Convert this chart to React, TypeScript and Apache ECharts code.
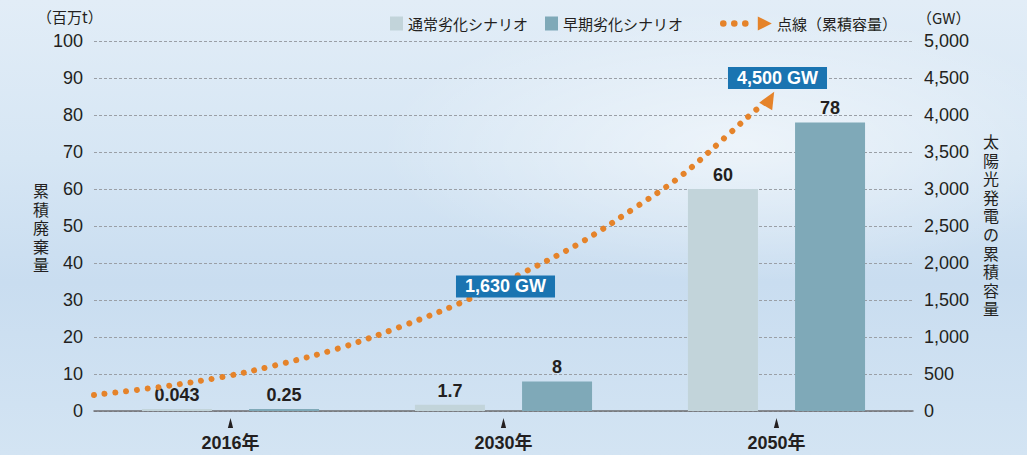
import React, { useEffect, useRef } from 'react';
import * as echarts from 'echarts';

// ---- data ----
const categories = ['2016年', '2030年', '2050年'];
const normalScenario = [0.043, 1.7, 60]; // 通常劣化シナリオ (百万t)
const earlyScenario = [0.25, 8, 78]; // 早期劣化シナリオ (百万t)
// cumulative PV capacity curve (GW), position measured in category units (0 = left edge, 3 = right edge)
const curvePos = [0, 0.24, 0.47, 0.67, 0.9, 1.13, 1.35, 1.57, 1.78, 1.98, 2.15, 2.33, 2.42, 2.476];
const curveGW = [216, 324, 459, 622, 851, 1149, 1473, 1865, 2270, 2743, 3176, 3757, 4054, 4216];
const capacityLabelPos = [1.5, 2.5];
const capacityLabelGW = [1630, 4500];
const leftMax = 100;
const leftInterval = 10;
const rightMax = 5000;
const rightInterval = 500;
const leftName = '累積廃棄量';
const rightName = '太陽光発電の累積容量';

const TEXT = '#231f20';
const ORANGE = '#e5832a';
const LIGHT = '#c2d4da';
const DARK = '#7fa9b8';
const BLUE = '#1a74b1';
const NUM = "'Liberation Sans', 'Noto Sans CJK JP', sans-serif";
const JP = "'Noto Sans CJK JP', sans-serif";

const lineIcon =
  'path://M0.2,7 A3.3,3.3 0 1 0 6.8,7 A3.3,3.3 0 1 0 0.2,7 Z ' +
  'M11.2,7 A3.3,3.3 0 1 0 17.8,7 A3.3,3.3 0 1 0 11.2,7 Z ' +
  'M22.2,7 A3.3,3.3 0 1 0 28.8,7 A3.3,3.3 0 1 0 22.2,7 Z ' +
  'M38,0 L52,7 L38,14 Z';

function verticalText(text: string, left: number, top: number, pitch: number) {
  return Array.from(text).map((ch, i) => ({
    type: 'text',
    left,
    top: top + i * pitch,
    style: { text: ch, fontSize: 16, lineHeight: 16, fontFamily: JP, fill: TEXT },
  }));
}

export default function App() {
  const ref = useRef<HTMLDivElement>(null);

  useEffect(() => {
    document.body.style.margin = '0';
    const chart = echarts.init(ref.current!, undefined, { renderer: 'svg' });
    const fmt = (v: number) => Number(v).toLocaleString('en-US');

    const barLabel = {
      show: true,
      position: 'top',
      distance: 5,
      color: TEXT,
      fontSize: 18,
      fontWeight: 'bold',
      fontFamily: NUM,
    };

    const option: any = {
      animation: false,
      grid: { left: 94, right: 114, top: 41, bottom: 44 },
      legend: [
        {
          data: ['通常劣化シナリオ', '早期劣化シナリオ'],
          left: 390,
          top: 16,
          padding: 0,
          icon: 'rect',
          itemWidth: 13,
          itemHeight: 14,
          itemGap: 17,
          selectedMode: false,
          textStyle: { color: TEXT, fontSize: 15, fontFamily: JP },
        },
        {
          data: [{ name: '点線（累積容量）', icon: lineIcon }],
          left: 720,
          top: 16,
          padding: 0,
          itemWidth: 52,
          itemHeight: 14,
          selectedMode: false,
          textStyle: { color: TEXT, fontSize: 15, fontFamily: JP },
        },
      ],
      xAxis: [
        {
          type: 'category',
          data: categories,
          axisLine: { lineStyle: { color: '#6d6e71', width: 1.5 } },
          axisTick: { inside: true, length: 7, lineStyle: { color: '#6d6e71', width: 1.2 } },
          axisLabel: {
            margin: 23,
            color: TEXT,
            fontSize: 18,
            fontWeight: 'bold',
            fontFamily: NUM,
          },
        },
        { type: 'value', min: 0, max: 3, show: false },
      ],
      yAxis: [
        {
          type: 'value',
          min: 0,
          max: leftMax,
          interval: leftInterval,
          axisLine: { show: false },
          axisTick: { show: false },
          axisLabel: { color: TEXT, fontSize: 18, fontFamily: NUM, margin: 11 },
          splitLine: { lineStyle: { color: '#9a9fa6', type: [3, 2], width: 1 } },
        },
        {
          type: 'value',
          min: 0,
          max: rightMax,
          interval: rightInterval,
          position: 'right',
          axisLine: { show: false },
          axisTick: { show: false },
          axisLabel: { color: TEXT, fontSize: 18, fontFamily: NUM, margin: 11, formatter: fmt },
          splitLine: { show: false },
        },
      ],
      graphic: [
        { type: 'text', left: 37, top: 9, style: { text: '（百万t）', fontSize: 15, fontFamily: JP, fill: TEXT } },
        { type: 'text', left: 917, top: 10, style: { text: '（GW）', fontSize: 15, fontFamily: JP, fill: TEXT } },
        ...verticalText(leftName, 33, 182, 18.5),
        ...verticalText(rightName, 983, 133, 18.6),
      ],
      series: [
        {
          name: '通常劣化シナリオ',
          type: 'bar',
          data: normalScenario,
          barWidth: 70,
          barGap: '53%',
          barMinHeight: 2,
          itemStyle: { color: LIGHT },
          label: barLabel,
        },
        {
          name: '早期劣化シナリオ',
          type: 'bar',
          data: earlyScenario,
          barWidth: 70,
          barGap: '53%',
          barMinHeight: 2,
          itemStyle: { color: DARK },
          label: barLabel,
        },
        {
          name: '点線（累積容量）',
          type: 'line',
          xAxisIndex: 1,
          yAxisIndex: 1,
          data: curvePos.map((p, i) => [p, curveGW[i]]),
          smooth: 0.35,
          showSymbol: false,
          itemStyle: { color: ORANGE },
          lineStyle: { color: ORANGE, width: 6, type: [0.01, 10.8], cap: 'round' },
          z: 3,
        },
        {
          name: 'arrow',
          type: 'scatter',
          xAxisIndex: 1,
          yAxisIndex: 1,
          data: [[curvePos[curvePos.length - 1], curveGW[curveGW.length - 1]]],
          symbol: 'triangle',
          symbolSize: [15, 17],
          symbolRotate: -30,
          itemStyle: { color: ORANGE, opacity: 1 },
          silent: true,
          z: 4,
        },
        {
          name: 'capacityLabels',
          type: 'scatter',
          xAxisIndex: 1,
          yAxisIndex: 1,
          data: capacityLabelPos.map((p, i) => ({
            value: [p, capacityLabelGW[i]],
            label: { offset: i === 0 ? [2, -4] : [1, 0] },
          })),
          symbolSize: 1,
          itemStyle: { color: 'rgba(0,0,0,0)', opacity: 1 },
          silent: true,
          z: 5,
          label: {
            show: true,
            position: 'inside',
            formatter: (p: any) => fmt(p.value[1]) + ' GW',
            color: '#ffffff',
            fontSize: 18,
            fontWeight: 'bold',
            fontFamily: NUM,
            backgroundColor: BLUE,
            padding: [2, 9, 2, 9],
          },
        },
        {
          name: 'yearMarkers',
          type: 'custom',
          xAxisIndex: 0,
          yAxisIndex: 0,
          data: categories.map((_, i) => [i, 0]),
          silent: true,
          renderItem: (params: any, api: any) => {
            const pt = api.coord([api.value(0), 0]);
            return {
              type: 'polygon',
              shape: {
                points: [
                  [pt[0], pt[1] + 7],
                  [pt[0] - 2.6, pt[1] + 17],
                  [pt[0] + 2.6, pt[1] + 17],
                ],
              },
              style: { fill: TEXT },
            };
          },
        },
      ],
    };

    chart.setOption(option);
    return () => chart.dispose();
  }, []);

  return (
    <div
      ref={ref}
      style={{
        position: 'fixed',
        left: 0,
        top: 0,
        width: 1027,
        height: 455,
        background:
          'radial-gradient(ellipse 35% 30% at 72% 32%, rgba(255,255,255,0.55), rgba(255,255,255,0) 100%), linear-gradient(180deg, #e2edf7 0%, #d6e6f4 35%, #c9ddf0 62%, #d3e4f3 100%)',
      }}
    />
  );
}
